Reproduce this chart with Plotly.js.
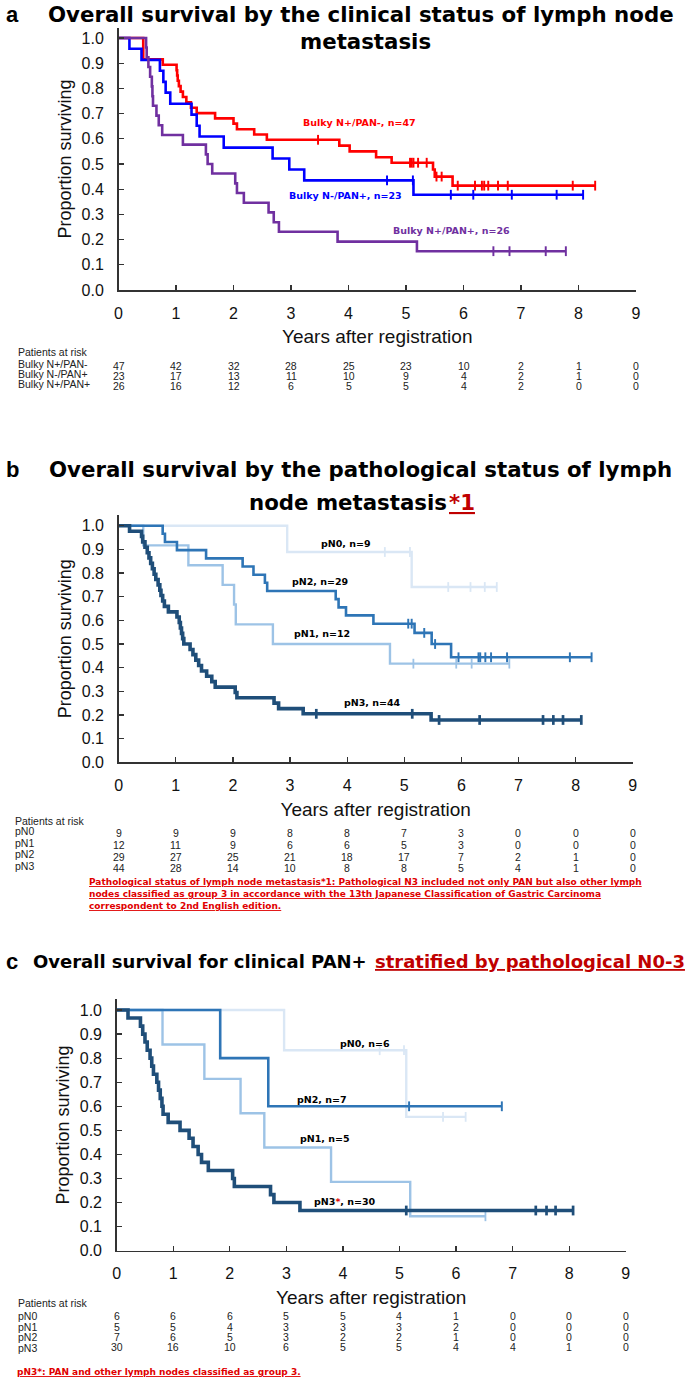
<!DOCTYPE html>
<html><head><meta charset="utf-8">
<script src="https://cdn.plot.ly/plotly-3.0.1.min.js"></script>
<style>html,body{margin:0;padding:0;background:#fff}#chart{width:685px;height:1379px}</style>
</head><body><div id="chart"></div>
<script>
// ---------- shared ----------
const years = [0,1,2,3,4,5,6,7,8,9];
const survTicks = [0,0.1,0.2,0.3,0.4,0.5,0.6,0.7,0.8,0.9,1.0];

// ---------- panel a: clinical status ----------
const aNames = ["Bulky N+/PAN-, n=47","Bulky N-/PAN+, n=23","Bulky N+/PAN+, n=26"];
const aRedT  = [0.43,0.77,1.01,1.02,1.03,1.05,1.08,1.12,1.18,1.26,1.36,1.68,2.00,2.06,2.36,2.58,3.84,4.02,4.48,4.75,5.47,5.50,5.81];
const aRedS  = [0.915,0.894,0.872,0.851,0.830,0.809,0.787,0.766,0.745,0.723,0.702,0.681,0.660,0.638,0.617,0.596,0.573,0.550,0.527,0.505,0.478,0.450,0.414];
const aRedC  = [3.47,5.07,5.10,5.13,5.21,5.36,5.53,5.62,5.90,6.20,6.32,6.36,6.43,6.60,6.77,7.90,8.29];
const aBlueT = [0.19,0.40,0.72,0.78,0.82,0.90,1.27,1.36,1.41,1.83,2.68,2.97,3.23,5.13];
const aBlueS = [0.957,0.913,0.870,0.826,0.783,0.739,0.696,0.652,0.609,0.565,0.522,0.478,0.435,0.378];
const aBlueC = [4.67,5.12,5.78,6.17,6.84,7.62,8.08];
const aPurT  = [0.48,0.49,0.52,0.55,0.58,0.59,0.60,0.66,0.70,0.76,1.12,1.52,1.55,1.63,2.03,2.06,2.18,2.61,2.70,2.79,3.81,5.19];
const aPurS  = [0.962,0.923,0.885,0.846,0.808,0.769,0.731,0.692,0.654,0.615,0.577,0.538,0.500,0.462,0.423,0.385,0.346,0.308,0.269,0.231,0.192,0.154];
const aPurC  = [6.52,6.80,7.43,7.78];
const aRiskNames = ["Bulky N+/PAN-","Bulky N-/PAN+","Bulky N+/PAN+"];
const aRiskRed  = [47,42,32,28,25,23,10,2,1,0];
const aRiskBlue = [23,17,13,11,10,9,4,2,1,0];
const aRiskPur  = [26,16,12,6,5,5,4,2,0,0];

// ---------- panel b: pathological status ----------
const bNames = ["pN0, n=9","pN1, n=12","pN2, n=29","pN3, n=44"];
const bN0T = [2.95,5.13];
const bN0S = [0.889,0.741];
const bN0C = [4.66,5.10,5.77,6.16,6.41,6.62];
const bN1T = [0.43,1.22,1.82,2.02,2.05,2.70,4.75];
const bN1S = [0.917,0.833,0.750,0.667,0.583,0.500,0.417];
const bN1C = [5.16,5.91,6.18,6.84];
const bN2T = [0.77,0.81,1.02,1.53,2.17,2.36,2.56,2.60,3.80,3.85,3.98,4.46,5.18,5.48,5.82];
const bN2S = [0.966,0.931,0.897,0.862,0.828,0.793,0.759,0.724,0.690,0.655,0.621,0.586,0.547,0.500,0.444];
const bN2C = [5.07,5.13,5.35,5.54,5.95,6.30,6.33,6.42,6.52,6.80,7.90,8.28];
const bN3T = [0.19,0.40,0.42,0.46,0.50,0.53,0.56,0.59,0.62,0.65,0.69,0.72,0.74,0.77,0.80,0.87,
              1.02,1.06,1.08,1.10,1.12,1.14,1.25,1.30,1.35,1.40,1.45,1.54,1.63,1.69,
              2.04,2.07,2.72,2.80,3.23,5.47];
const bN3S = [0.977,0.955,0.932,0.909,0.886,0.864,0.841,0.818,0.795,0.773,0.750,0.727,0.705,0.682,0.659,0.636,
              0.614,0.591,0.568,0.545,0.523,0.500,0.477,0.455,0.432,0.409,0.386,0.364,0.341,0.318,
              0.295,0.273,0.250,0.227,0.205,0.179];
const bN3C = [3.46,5.14,5.61,6.32,7.43,7.61,7.78,8.10];
const bRiskNames = ["pN0","pN1","pN2","pN3"];
const bRiskN0 = [9,9,9,8,8,7,3,0,0,0];
const bRiskN1 = [12,11,9,6,6,5,3,0,0,0];
const bRiskN2 = [29,27,25,21,18,17,7,2,1,0];
const bRiskN3 = [44,28,14,10,8,8,5,4,1,0];

// ---------- panel c: clinical PAN+ by pN ----------
const cNames = ["pN0, n=6","pN1, n=5","pN2, n=7","n=30"];
const cN0T = [2.96,5.12];
const cN0S = [0.833,0.556];
const cN0C = [4.65,5.08,5.77,6.17];
const cN1T = [0.81,1.55,2.19,2.61,3.79,5.19];
const cN1S = [0.857,0.714,0.571,0.429,0.286,0.143];
const cN1C = [6.52];
const cN2T = [1.83,2.68];
const cN2S = [0.800,0.600];
const cN2C = [5.17,6.81];
const cN3T = [0.20,0.42,0.46,0.50,0.54,0.59,0.62,0.65,0.71,0.74,0.77,0.80,0.82,0.91,
              1.12,1.28,1.35,1.44,1.50,1.62,2.05,2.08,2.72,2.78,3.24];
const cN3S = [0.967,0.933,0.900,0.867,0.833,0.800,0.767,0.733,0.700,0.667,0.633,0.600,0.567,0.533,
              0.500,0.467,0.433,0.400,0.367,0.333,0.300,0.267,0.233,0.200,0.167];
const cN3C = [5.12,7.41,7.60,7.76,8.07];
const cRiskNames = ["pN0","pN1","pN2","pN3"];
const cRiskN0 = [6,6,6,5,5,4,1,0,0,0];
const cRiskN1 = [5,5,4,3,3,3,2,0,0,0];
const cRiskN2 = [7,6,5,3,2,2,1,0,0,0];
const cRiskN3 = [30,16,10,6,5,5,4,4,1,0];

// ---------- helpers ----------
const W = 685, H = 1379;
const PX = p => p / W;
const PY = p => 1 - p / H;

function survAt(T, S, t) {
  let s = 1;
  for (let i = 0; i < T.length; i++) { if (T[i] <= t) s = S[i]; }
  return s;
}
function km(T, S, C, color, width, ax) {
  const end = Math.max(T[T.length-1], ...C);
  const xs = [0, ...T, end];
  const ys = [1, ...S, S[S.length-1]];
  const xa = 'x' + ax, ya = 'y' + ax;
  const line = {x: xs, y: ys, mode: 'lines', line: {shape: 'hv', color: color, width: width},
    xaxis: xa, yaxis: ya, hoverinfo: 'skip'};
  const cens = {x: C, y: C.map(t => survAt(T, S, t)), mode: 'markers',
    marker: {symbol: 'line-ns', size: 7, color: color, line: {color: color, width: Math.max(1.6, width*0.75)}},
    xaxis: xa, yaxis: ya, hoverinfo: 'skip', cliponaxis: false};
  return [line, cens];
}

const RED = '#FF0000', BLUE = '#0000FF', PUR = '#7030A0';
const N0 = '#DAE7F5', N1 = '#9DC3E6', N2 = '#2E75B6', N3 = '#1F4E79';
const TITLE_RED = '#C00000', NOTE_RED = '#E00000';

const traces = [
  ...km(aRedT, aRedS, aRedC, RED, 2.6, ''),
  ...km(aBlueT, aBlueS, aBlueC, BLUE, 2.6, ''),
  ...km(aPurT, aPurS, aPurC, PUR, 2.6, ''),
  ...km(bN0T, bN0S, bN0C, N0, 2.4, '2'),
  ...km(bN1T, bN1S, bN1C, N1, 2.4, '2'),
  ...km(bN2T, bN2S, bN2C, N2, 2.6, '2'),
  ...km(bN3T, bN3S, bN3C, N3, 3.6, '2'),
  ...km(cN0T, cN0S, cN0C, N0, 2.4, '3'),
  ...km(cN1T, cN1S, cN1C, N1, 2.4, '3'),
  ...km(cN2T, cN2S, cN2C, N2, 2.6, '3'),
  ...km(cN3T, cN3S, cN3C, N3, 3.6, '3'),
];

function xAx(l, r, anchor) {
  return {domain: [PX(l), PX(r)], range: [0, 9], tickvals: years, ticktext: years.map(String),
    ticks: 'inside', ticklen: 5, tickwidth: 1.2, tickcolor: '#333', showline: true, linecolor: '#333', linewidth: 1.5,
    showgrid: false, zeroline: false, anchor: anchor, fixedrange: true,
    tickfont: {family: 'Liberation Sans, Arial, sans-serif', size: 16, color: '#111'}, ticklabelstandoff: 8,
    title: {text: 'Years after registration', font: {family: 'Liberation Sans, Arial, sans-serif', size: 19, color: '#111'}, standoff: 9}};
}
function yAx(bottom, top, topVal, anchor) {
  return {domain: [PY(bottom), PY(top)], range: [0, topVal], tickvals: survTicks, tickformat: '.1f',
    ticks: 'inside', ticklen: 5, tickwidth: 1.2, tickcolor: '#333', showline: true, linecolor: '#333', linewidth: 1.5,
    showgrid: false, zeroline: false, anchor: anchor, fixedrange: true,
    tickfont: {family: 'Liberation Sans, Arial, sans-serif', size: 16, color: '#111'}, ticklabelstandoff: 10,
    title: {text: 'Proportion surviving', font: {family: 'Liberation Sans, Arial, sans-serif', size: 18, color: '#111'}, standoff: 5}};
}

const ann = [];
const BOLD = {family: 'DejaVu Sans, Verdana, sans-serif', weight: 700};
function txt(text, x, y, size, color, xanchor, extra) {
  ann.push(Object.assign({text: text, x: PX(x), y: PY(y), xref: 'paper', yref: 'paper', showarrow: false,
    xanchor: xanchor || 'center', yanchor: 'middle', borderpad: 0,
    font: Object.assign({size: size, color: color}, BOLD)}, extra || {}));
}
function plain(text, x, y, size, xanchor) {
  ann.push({text: text, x: PX(x), y: PY(y), xref: 'paper', yref: 'paper', showarrow: false,
    xanchor: xanchor || 'left', yanchor: 'middle',
    font: {family: 'Liberation Sans, Arial, sans-serif', size: size, color: '#222'}});
}
function riskRow(vals, xref, y) {
  vals.forEach((v, i) => ann.push({text: String(v), x: years[i], y: PY(y), xref: xref, yref: 'paper',
    showarrow: false, xanchor: 'center', yanchor: 'middle',
    font: {family: 'Liberation Sans, Arial, sans-serif', size: 10.5, color: '#222'}}));
}
function letter(l, x, y) {
  ann.push({text: l, x: PX(x), y: PY(y), xref: 'paper', yref: 'paper', showarrow: false, xanchor: 'left', yanchor: 'middle',
    font: {family: 'Liberation Sans, Arial, sans-serif', size: 22, weight: 700, color: '#000'}});
}

// panel letters + titles
letter('a', 4, 15);
txt('Overall survival by the clinical status of lymph node', 361, 14, 21.3, '#000');
txt('metastasis', 365, 41, 21.3, '#000');

letter('b', 4, 470);
txt('Overall survival by the pathological status of lymph', 360, 469, 21.3, '#000');
txt('node metastasis', 448, 502, 21.3, '#000', 'right');
txt('*1', 448, 502, 21.3, TITLE_RED, 'left', {font: Object.assign({size: 21.3, color: TITLE_RED, lineposition: 'under'}, BOLD)});

letter('c', 4, 962);
txt('Overall survival for clinical PAN+', 368, 962, 18, '#000', 'right');
txt('stratified by pathological N0-3', 374, 962, 18, TITLE_RED, 'left', {font: Object.assign({size: 18, color: TITLE_RED, lineposition: 'under'}, BOLD)});

// curve labels
txt(aNames[0], 359, 123, 9.5, RED);
txt(aNames[1], 345, 195, 9.5, BLUE);
txt(aNames[2], 452, 231, 9.5, PUR);
txt(bNames[0], 346, 543, 9.5, '#000');
txt(bNames[2], 320, 581, 9.5, '#000');
txt(bNames[1], 322, 633, 9.5, '#000');
txt(bNames[3], 372, 702, 9.5, '#000');
txt(cNames[0], 365, 1043, 9.5, '#000');
txt(cNames[2], 322, 1099, 9.5, '#000');
txt(cNames[1], 325, 1138, 9.5, '#000');
txt('pN3<span style="color:#E00000">*</span>, ' + cNames[3], 345, 1201, 9.5, '#000');

// risk tables
plain('Patients at risk', 16, 352, 10.5);
aRiskNames.forEach((n, i) => plain(n, 16, 364 + i*10, 10.5));
riskRow(aRiskRed, 'x', 366); riskRow(aRiskBlue, 'x', 376); riskRow(aRiskPur, 'x', 386);

plain('Patients at risk', 13, 821, 10.5);
bRiskNames.forEach((n, i) => plain(n, 13, 831 + i*11.7, 10.5));
riskRow(bRiskN0, 'x2', 833); riskRow(bRiskN1, 'x2', 845); riskRow(bRiskN2, 'x2', 857); riskRow(bRiskN3, 'x2', 868);

plain('Patients at risk', 16, 1303, 10.5);
cRiskNames.forEach((n, i) => plain(n, 16, 1316 + i*10.5, 10.5));
riskRow(cRiskN0, 'x3', 1316); riskRow(cRiskN1, 'x3', 1327); riskRow(cRiskN2, 'x3', 1337); riskRow(cRiskN3, 'x3', 1347);

// footnotes
const noteFont = Object.assign({size: 9, color: NOTE_RED, lineposition: 'under'}, BOLD);
txt('Pathological status of lymph node metastasis*1: Pathological N3 included not only PAN but also other lymph', 88, 882, 9, NOTE_RED, 'left', {font: noteFont});
txt('nodes classified as group 3 in accordance with the 13th Japanese Classification of Gastric Carcinoma', 88, 894, 9, NOTE_RED, 'left', {font: noteFont});
txt('correspondent to 2nd English edition.', 88, 906, 9, NOTE_RED, 'left', {font: noteFont});
txt('pN3*: PAN and other lymph nodes classified as group 3.', 16, 1372, 9, NOTE_RED, 'left', {font: noteFont});

const layout = {
  width: W, height: H, margin: {l: 0, r: 0, t: 0, b: 0},
  paper_bgcolor: '#fff', plot_bgcolor: 'rgba(0,0,0,0)', showlegend: false,
  xaxis: xAx(118.5, 636, 'y'),
  yaxis: yAx(290, 27.9, 1.04, 'x'),
  xaxis2: xAx(118.7, 632.7, 'y2'),
  yaxis2: yAx(762.3, 515.1, 1.045, 'x2'),
  xaxis3: xAx(116.7, 625.7, 'y3'),
  yaxis3: yAx(1250.7, 999.2, 1.045, 'x3'),
  annotations: ann
};
Plotly.newPlot('chart', traces, layout, {staticPlot: true, displayModeBar: false});
</script>
</body></html>
